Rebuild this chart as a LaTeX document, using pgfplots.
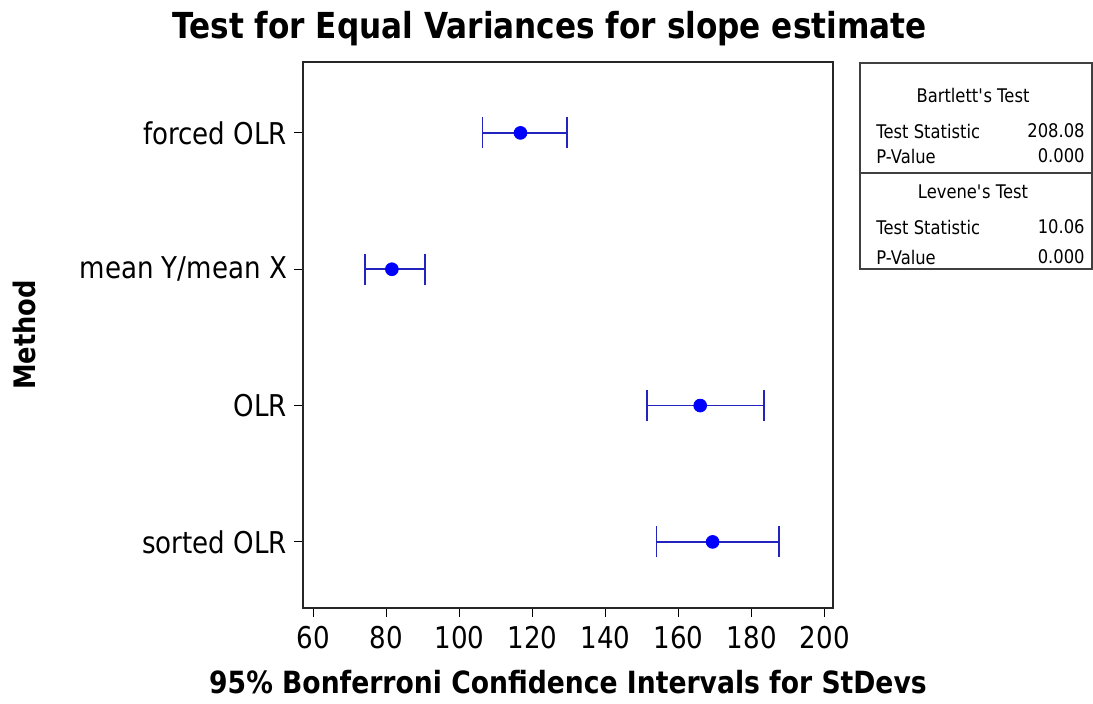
\documentclass[border=0pt]{standalone}
\usepackage{fontspec}
\setmainfont[FakeStretch=0.87]{DejaVu Sans}
\usepackage{pgfplots}
\pgfplotsset{compat=1.18}
\definecolor{ptblue}{RGB}{0,0,255}
\definecolor{barblue}{RGB}{35,35,190}
\begin{document}
\begin{tikzpicture}
\begin{axis}[
  name=ax, at={(0,0)}, anchor=south west,
  scale only axis, width=265pt, height=273pt,
  xmin=57.17, xmax=202.25, ymin=0.515, ymax=4.52,
  xtick={60,80,...,200},
  ytick={1,2,3,4},
  yticklabels={sorted OLR,OLR,mean Y/mean X,forced OLR},
  xtick pos=bottom, ytick pos=left,
  tick align=outside, major tick length=4.5pt,
  tick style={black, line width=0.6pt},
  axis line style={black!85, line width=0.7pt},
  /pgf/number format/assume math mode=true,
  ticklabel style={font=\fontsize{15}{18}\selectfont},
  xticklabel style={yshift=-1pt},
  clip=false,
]
\addplot[only marks, mark=*, mark size=3.2pt, color=ptblue,
  error bars/.cd, x dir=both, x explicit,
  error bar style={color=barblue, line width=0.8pt},
  error mark options={color=barblue, line width=0.8pt, mark size=7.75pt, rotate=90}]
coordinates {
  (116.7,4) += (12.7,0) -= (10.4,0)
  (81.5,3)  += (9.1,0)  -= (7.4,0)
  (165.9,2) += (17.5,0) -= (14.6,0)
  (169.3,1) += (18.1,0) -= (15.4,0)
};
\end{axis}
% titles and labels
\node[anchor=base, font=\fontsize{17.9}{21}\selectfont\bfseries] at (123.25pt,284.5pt) {Test for Equal Variances for slope estimate};
\node[anchor=base, font=\fontsize{15.3}{18}\selectfont\bfseries] at (132.5pt,-42.5pt) {95\% Bonferroni Confidence Intervals for StDevs};
\node[rotate=90, font=\fontsize{14.8}{17}\selectfont\bfseries] at (-139.5pt,136.5pt) {Method};
% table
\draw[black!75, line width=0.6pt] (278.5pt,169.5pt) rectangle (394.5pt,272.5pt);
\draw[black!75, line width=0.6pt] (278.5pt,217.5pt) -- (394.5pt,217.5pt);
\begin{scope}[every node/.style={font=\fontsize{9.4}{11}\selectfont, inner sep=0pt}]
\node at (335pt,256.5pt) {Bartlett\textquotesingle s Test};
\node[anchor=west] at (286.5pt,238.5pt) {Test Statistic};
\node[anchor=east] at (391pt,238.5pt) {208.08};
\node[anchor=west] at (286.5pt,226pt) {P-Value};
\node[anchor=east] at (391pt,226pt) {0.000};
\node at (335pt,208pt) {Levene\textquotesingle s Test};
\node[anchor=west] at (286.5pt,190.5pt) {Test Statistic};
\node[anchor=east] at (391pt,190.5pt) {10.06};
\node[anchor=west] at (286.5pt,175.5pt) {P-Value};
\node[anchor=east] at (391pt,175.5pt) {0.000};
\end{scope}
\pgfresetboundingbox
\path (-151.5pt,-47.5pt) rectangle (395pt,304pt);
\end{tikzpicture}
\end{document}
